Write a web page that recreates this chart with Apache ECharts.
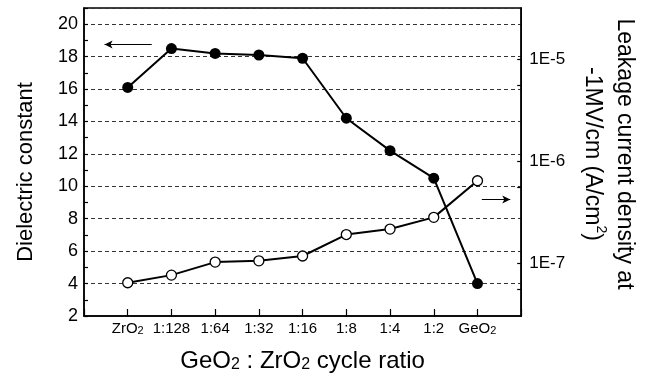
<!DOCTYPE html>
<html>
<head>
<meta charset="utf-8">
<script src="https://cdn.jsdelivr.net/npm/echarts@6/dist/echarts.min.js"></script>
<style>
  html, body { margin: 0; padding: 0; background: #fff; }
  #chart { width: 648px; height: 378px; }
</style>
</head>
<body>
<div id="chart"></div>
<script>
// GeO2 : ZrO2 cycle ratio
var categories = ['ZrO2', '1:128', '1:64', '1:32', '1:16', '1:8', '1:4', '1:2', 'GeO2'];
// 介电常数 (左轴)
var dielectric = [16.1, 18.5, 18.2, 18.1, 17.9, 14.2, 12.2, 10.5, 4.0];
// 漏电流密度 A/cm2 (右轴, 对数)
var leakage = [6.4e-8, 7.6e-8, 1.02e-7, 1.05e-7, 1.17e-7, 1.9e-7, 2.15e-7, 2.8e-7, 6.4e-7];
var leakLabels = [1e-5, 1e-6, 1e-7];
var leakTicks = [1e-5, 5.5e-6, 1e-6, 5.5e-7, 1e-7, 5.5e-8];

var font = 'Liberation Sans, Arial, sans-serif';

function pairs(vals) {
    var out = [];
    for (var i = 0; i < vals.length; i++) {
        out.push([i, vals[i]]);
    }
    return out;
}

// 下标 2
function catLabel(v) {
    var c = categories[v];
    if (c === undefined) return '';
    return c.replace('O2', 'O{sub|2}');
}

var chart = echarts.init(document.getElementById('chart'));
var option = {
    animation: false,
    textStyle: { fontFamily: font },
    grid: {
        left: 84, right: 115, top: 8, bottom: 57,
        show: true, borderColor: '#000', borderWidth: 1.5, backgroundColor: 'transparent'
    },
    xAxis: {
        type: 'value',
        min: -1, max: 9, interval: 1,
        name: 'GeO{sub|2} : ZrO{sub|2} cycle ratio',
        nameLocation: 'middle',
        nameGap: 33,
        nameTextStyle: {
            fontSize: 24, color: '#000', fontFamily: font,
            rich: { sub: { fontSize: 16, verticalAlign: 'bottom', fontFamily: font, color: '#000' } }
        },
        axisLine: { onZero: false, lineStyle: { color: '#000', width: 1.5 } },
        axisTick: { inside: true, length: 7, lineStyle: { color: '#000', width: 1.2 } },
        axisLabel: {
            formatter: catLabel, fontSize: 15, color: '#000', margin: 5,
            rich: { sub: { fontSize: 11, verticalAlign: 'bottom', color: '#000' } }
        },
        splitLine: { show: false }
    },
    yAxis: [{
        type: 'value',
        min: 2, max: 21, interval: 2,
        name: 'Dielectric constant',
        nameLocation: 'middle',
        nameGap: 47,
        nameTextStyle: { fontSize: 22, color: '#000', padding: [0, 20, 0, 0] },
        axisLine: { show: true, onZero: false, lineStyle: { color: '#000', width: 1.5 } },
        axisTick: { inside: true, length: 4, lineStyle: { color: '#000', width: 1.2 } },
        minorTick: { show: true, splitNumber: 2, length: 4, lineStyle: { color: '#000', width: 1.2 } },
        axisLabel: { fontSize: 18, color: '#000', margin: 6, showMaxLabel: false, padding: [0, 0, 10, 0] },
        splitLine: { show: true, lineStyle: { color: '#333', type: [4, 3], width: 1 } }
    }, {
        type: 'log',
        min: Math.pow(10, -7.52), max: Math.pow(10, -4.5),
        position: 'right',
        name: 'Leakage current density at\n-1MV/cm (A/cm{sup|2})',
        nameLocation: 'middle',
        nameRotate: -90,
        nameGap: 47,
        nameTextStyle: {
            fontSize: 23, color: '#000', lineHeight: 32, padding: [0, 16, 0, 0],
            rich: { sup: { fontSize: 14, verticalAlign: 'top', color: '#000' } }
        },
        axisLine: { show: true, onZero: false, lineStyle: { color: '#000', width: 1.5 } },
        axisTick: { inside: true, length: 4, customValues: leakTicks, lineStyle: { color: '#000', width: 1.2 } },
        axisLabel: {
            customValues: leakLabels, fontSize: 17, color: '#000', margin: 8,
            formatter: function (v) { return '1E' + Math.round(Math.log10(v)); }
        },
        splitLine: { show: false }
    }],
    series: [{
        name: 'Dielectric constant',
        type: 'line',
        yAxisIndex: 0,
        data: pairs(dielectric),
        symbol: 'circle',
        symbolSize: 11,
        itemStyle: { color: '#000' },
        lineStyle: { color: '#000', width: 2 },
        markLine: {
            silent: true,
            symbol: ['none', 'arrow'],
            symbolSize: [6, 8],
            label: { show: false },
            lineStyle: { color: '#000', width: 1, type: 'solid' },
            data: [[{ coord: [0.55, 18.75] }, { coord: [-0.53, 18.75] }]]
        }
    }, {
        name: 'Leakage current density',
        type: 'line',
        yAxisIndex: 1,
        data: pairs(leakage),
        symbol: 'circle',
        symbolSize: 10,
        itemStyle: { color: '#fff', borderColor: '#000', borderWidth: 1.3 },
        lineStyle: { color: '#000', width: 2 },
        markLine: {
            silent: true,
            symbol: ['none', 'arrow'],
            symbolSize: [6, 8],
            label: { show: false },
            lineStyle: { color: '#000', width: 1, type: 'solid' },
            data: [[{ coord: [8.1, 4.2e-7] }, { coord: [8.75, 4.2e-7] }]]
        }
    }]
};
chart.setOption(option);
</script>
</body>
</html>
